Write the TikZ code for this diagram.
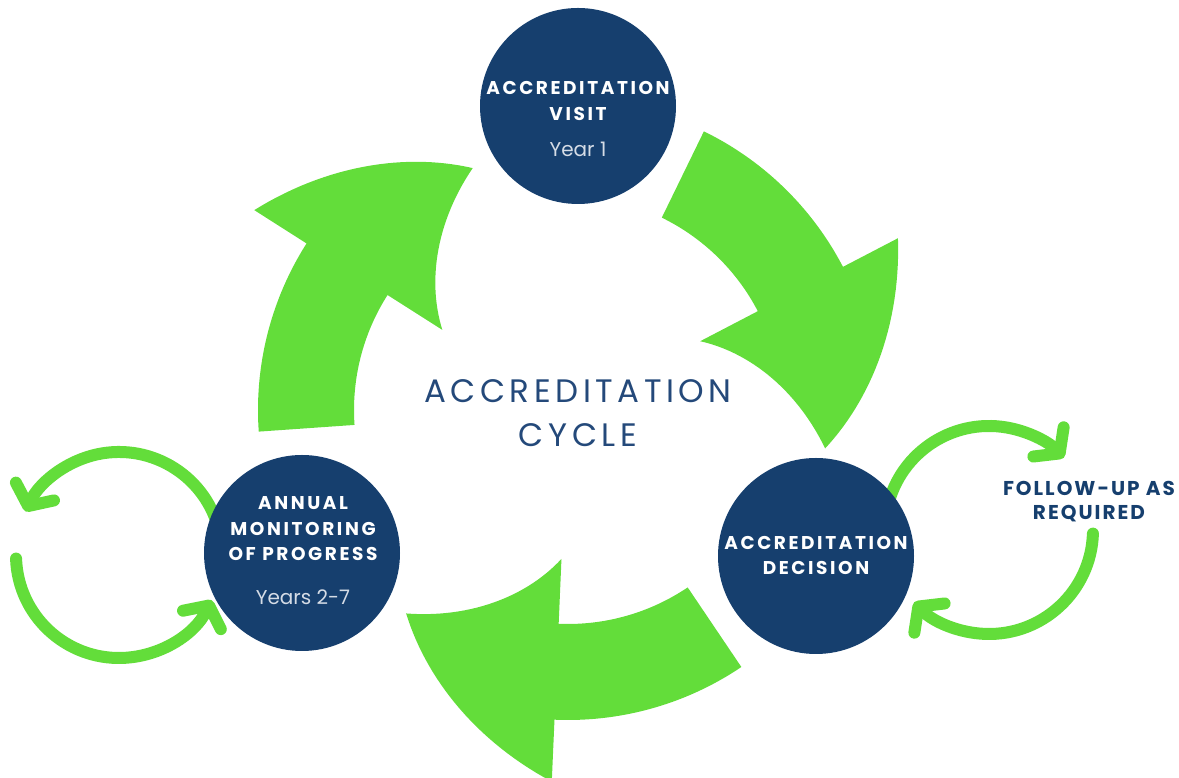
\documentclass[tikz,border=0pt]{standalone}
\usepackage{fontspec}
\setmainfont{Poppins}
\newfontfamily\capsf[LetterSpace=14]{Poppins}
\newfontfamily\followf[LetterSpace=10]{Poppins}
\newfontfamily\titlef[LetterSpace=14]{Poppins}
\usetikzlibrary{arrows.meta}
\definecolor{cgreen}{HTML}{63DD3A}
\definecolor{cnavy}{HTML}{163F6E}
\definecolor{ctitle}{HTML}{24497A}
\definecolor{cyear}{HTML}{D5DCE6}
\newcommand\cyclearrow[1]{%
  \pgfmathsetmacro\ta{#1}%
  \pgfmathsetmacro\tb{#1-36.5}%
  \pgfmathsetmacro\tc{#1-72.5}%
  \fill[bigarrow] (\ta:310) arc[start angle=\ta, end angle=\tb, radius=310] -- (\tb:372)
    -- plot[domain=0:1, samples=30, variable=\t]
       ({(372-112*\t)*cos(\tb+(\tc-\tb)*\t)}, {(372-112*\t)*sin(\tb+(\tc-\tb)*\t)})
    -- plot[domain=0:1, samples=30, variable=\t]
       ({(260-111*\t)*cos(\tc+(\tb-\tc)*\t)}, {(260-111*\t)*sin(\tc+(\tb-\tc)*\t)})
    -- (\tb:214) arc[start angle=\tb, end angle=\ta, radius=214] -- cycle;}
\tikzset{
  bigarrow/.style={fill=cgreen},
  stage/.style={circle, fill=cnavy, minimum size=196pt, inner sep=0pt},
  caplabel/.style={anchor=base, text=white, font=\capsf\bfseries\fontsize{18.5}{20}\selectfont},
  yearlabel/.style={anchor=base, text=cyear, font=\fontsize{20}{22}\selectfont},
  titlelabel/.style={anchor=base, text=ctitle, font=\titlef\fontsize{32.5}{36}\selectfont},
  followlabel/.style={anchor=base, text=cnavy, font=\followf\bfseries\fontsize{20}{22}\selectfont},
  loopline/.style={draw=cgreen, line width=12pt, line cap=round,
    -{Straight Barb[round, length=16pt, width=42pt]}},
}
\begin{document}
\begin{tikzpicture}[x=1pt, y=1pt]
\useasboundingbox (0,0) rectangle (1179,778);
% small loops
\coordinate (lc) at (119,223);
\coordinate (rc) at (989,248);
\draw[loopline] ([shift={(15:103)}]lc) arc[start angle=15, end angle=155, radius=103];
\draw[loopline] ([shift={(182:103)}]lc) arc[start angle=182, end angle=334, radius=103];
\draw[loopline] ([shift={(170:104)}]rc) arc[start angle=170, end angle=44, radius=104];
\draw[loopline] ([shift={(-2:104)}]rc) arc[start angle=-2, end angle=-136, radius=104];
% stage circles
\node[stage] (visit) at (578,672) {};
\node[stage] (decision) at (816,222) {};
\node[stage] (monitor) at (302,225) {};
% big cycle arrows
\begin{scope}[shift={(568,368)}]
  \cyclearrow{184}
  \cyclearrow{64}
  \cyclearrow{-56}
\end{scope}
% texts
\node[caplabel] (v1) at (578,683.5) {ACCREDITATION};
\node[caplabel] (v2) at (578,657.5) {VISIT};
\node[yearlabel] (v3) at (578,621) {Year 1};
\node[caplabel] (d1) at (816,228) {ACCREDITATION};
\node[caplabel] (d2) at (816,203) {DECISION};
\node[caplabel] (m1) at (303,268.5) {ANNUAL};
\node[caplabel] (m2) at (303,242.5) {MONITORING};
\node[caplabel] (m3) at (303,217.5) {OF PROGRESS};
\node[yearlabel] (m4) at (303,173) {Years 2-7};
\node[titlelabel] (t1) at (578,375) {ACCREDITATION};
\node[titlelabel] (t2) at (578,331) {CYCLE};
\node[followlabel] (f1) at (1089,282) {FOLLOW-UP AS};
\node[followlabel] (f2) at (1089,258) {REQUIRED};
\end{tikzpicture}
\end{document}
